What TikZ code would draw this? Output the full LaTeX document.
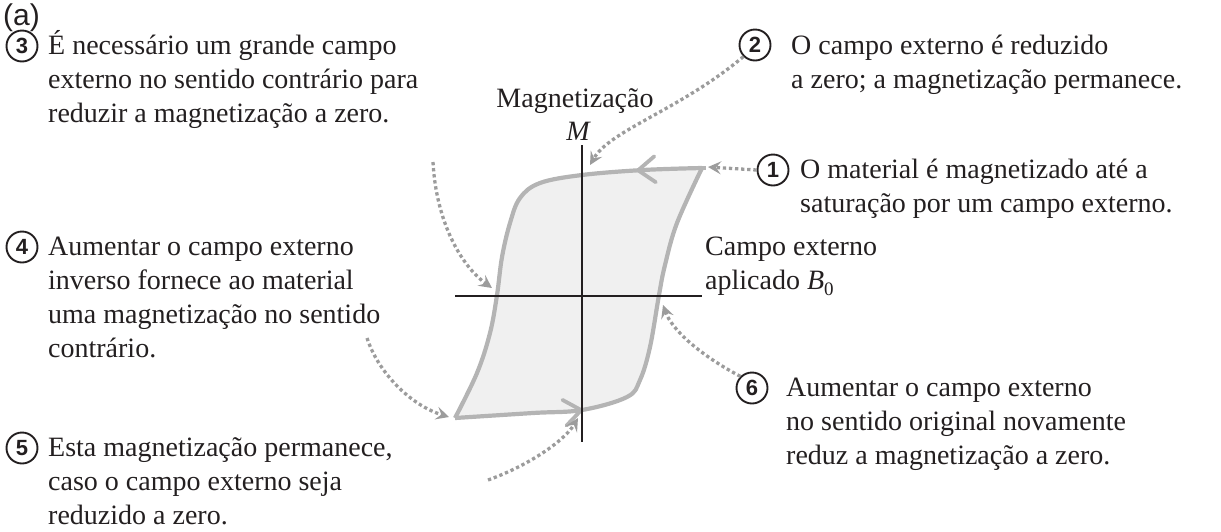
\documentclass[tikz,border=0pt]{standalone}
\usepackage{fontspec}
\setmainfont{Liberation Serif}
\newfontfamily\lsans{Liberation Sans}
\usetikzlibrary{arrows.meta,decorations.markings}
\definecolor{loopgray}{HTML}{B4B4B4}
\definecolor{loopfill}{HTML}{F0F0F0}
\definecolor{dotgray}{HTML}{9C9C9C}
\definecolor{ink}{HTML}{231F20}
\tikzset{
  txt/.style={anchor=base west, inner sep=0pt, text=ink, font=\fontsize{28}{34}\selectfont},
  num/.style={circle, draw=ink, line width=1.9pt, minimum size=31pt, inner sep=0pt, text=ink,
              font=\lsans\bfseries\fontsize{22}{22}\selectfont},
  dotarrow/.style={draw=dotgray, line width=3.3pt, dash pattern=on 3.3pt off 2.8pt,
                   -{Stealth[length=13pt,width=13pt,inset=5pt,fill=dotgray]}},
  loopline/.style={draw=loopgray, line width=4.2pt},
  axis/.style={draw=ink, line width=1.3pt},
  chev/.style={postaction={decorate, decoration={markings,
      mark=at position #1 with {\draw[loopgray, line width=3.8pt, line cap=round, line join=miter]
          (-16pt,13pt) -- (1pt,0pt) -- (-16pt,-13pt);}}}}
}
\begin{document}
\begin{tikzpicture}[x=1pt,y=-1pt]
\useasboundingbox (0,0) rectangle (1221,531);

% loop fill
\path[fill=loopfill]
  plot[smooth,tension=0.6] coordinates {(702,168) (643,170) (582,175) (540,183) (520,198) (510,223) (502,257) (497,295) (490,333) (477,373) (455,418)}
  -- plot[smooth,tension=0.6] coordinates {(455,418) (533,413) (582,410) (627,397) (640,380) (650,347) (659,295) (665,265) (677,223) (702,168)} -- cycle;
% loop strokes
\draw[loopline, chev=0.15]
  plot[smooth,tension=0.6] coordinates {(702,168) (643,170) (582,175) (540,183) (520,198) (510,223) (502,257) (497,295) (490,333) (477,373) (455,418)};
\draw[loopline, chev=0.3]
  plot[smooth,tension=0.6] coordinates {(455,418) (533,413) (582,410) (627,397) (640,380) (650,347) (659,295) (665,265) (677,223) (702,168)};
\draw[loopline] (698,168) -- (706,168);

% axes
\coordinate (ytop) at (582,145);
\coordinate (ybot) at (582,442);
\coordinate (xl) at (455,296);
\coordinate (xr) at (702,296);
\draw[axis] (ytop) -- (ybot);
\draw[axis] (xl) -- (xr);

% labels
\node[anchor=west, inner sep=0pt, text=ink, font=\lsans\fontsize{30}{30}\selectfont] (a) at (3,18) {(a)};
\node[anchor=base, inner sep=0pt, text=ink, font=\fontsize{28}{34}\selectfont] (mag) at (575,107) {Magnetização};
\node[anchor=base, inner sep=0pt, text=ink, font=\fontsize{28}{34}\selectfont\itshape] (M) at (578,140) {M};
\node[txt] (campo) at (705,255) {\begin{tabular}[t]{@{}l@{}}Campo externo\\ aplicado \textit{B}\raisebox{-0.22em}{\fontsize{19}{19}\selectfont 0}\end{tabular}};

% numbered captions
\node[num] (n3) at (22,46) {3};
\node[txt] (t3) at (48,54) {\begin{tabular}[t]{@{}l@{}}É necessário um grande campo\\ externo no sentido contrário para\\ reduzir a magnetização a zero.\end{tabular}};
\node[num] (n2) at (755,45) {2};
\node[txt] (t2) at (791,54) {\begin{tabular}[t]{@{}l@{}}O campo externo é reduzido\\ a zero; a magnetização permanece.\end{tabular}};
\node[num] (n1) at (773,170) {1};
\node[txt] (t1) at (800,178) {\begin{tabular}[t]{@{}l@{}}O material é magnetizado até a\\ saturação por um campo externo.\end{tabular}};
\node[num] (n4) at (22,247) {4};
\node[txt] (t4) at (48,255) {\begin{tabular}[t]{@{}l@{}}Aumentar o campo externo\\ inverso fornece ao material\\ uma magnetização no sentido\\ contrário.\end{tabular}};
\node[num] (n6) at (752,388) {6};
\node[txt] (t6) at (786,396) {\begin{tabular}[t]{@{}l@{}}Aumentar o campo externo\\ no sentido original novamente\\ reduz a magnetização a zero.\end{tabular}};
\node[num] (n5) at (22,448) {5};
\node[txt] (t5) at (48,456) {\begin{tabular}[t]{@{}l@{}}Esta magnetização permanece,\\ caso o campo externo seja\\ reduzido a zero.\end{tabular}};

% dotted pointer arrows
\coordinate (e1) at (708,167);
\coordinate (e2) at (590,165);
\coordinate (s3) at (433,162);
\coordinate (e3) at (492,288);
\coordinate (s4) at (367,338);
\coordinate (e4) at (449,417);
\coordinate (s5) at (488,480);
\coordinate (e5) at (578,418);
\coordinate (e6) at (663,305);
\draw[dotarrow] (n1.west) -- (e1);
\draw[dotarrow] (n2.south west) .. controls (680,110) and (610,130) .. (e2);
\draw[dotarrow] (s3) .. controls (436,220) and (460,265) .. (e3);
\draw[dotarrow] (s4) .. controls (378,372) and (410,405) .. (e4);
\draw[dotarrow] (s5) .. controls (530,465) and (565,440) .. (e5);
\draw[dotarrow] (n6.north west) .. controls (700,355) and (672,330) .. (e6);
\end{tikzpicture}
\end{document}
